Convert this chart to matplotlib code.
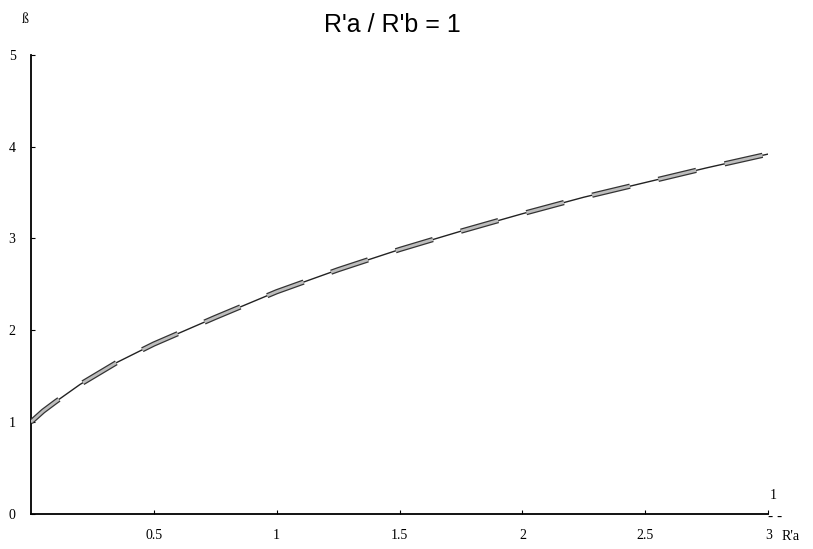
import matplotlib.pyplot as plt

## 1. Data
ra = [0, 0.05, 0.1, 0.2, 0.35, 0.5, 0.75, 1.0, 1.25, 1.5, 1.75, 2.0, 2.25, 2.5, 2.75, 3.0]
beta = [1.0, 1.12, 1.22, 1.41, 1.65, 1.85, 2.14, 2.42, 2.66, 2.88, 3.08, 3.27, 3.45, 3.61, 3.77, 3.92]
xticks = [0.5, 1, 1.5, 2, 2.5, 3]
xticklabels = ['0.5', '1', '1.5', '2', '2.5', '3']
yticks = [0, 1, 2, 3, 4, 5]

plt.rcParams['lines.scale_dashes'] = False
serif = 'Liberation Serif'

## 2. Plot
fig = plt.figure(figsize=(8.13, 5.49), dpi=100)
ax = fig.add_axes([0.038, 0.064, 0.907, 0.836])

ax.plot(ra, beta, color='#222222', lw=1.0, zorder=3)
# thick hatched segments along the curve
ax.plot(ra, beta, color='#333333', lw=3.8, ls=(2, (28, 21)), solid_capstyle='butt', zorder=4)
ax.plot(ra, beta, color='#bdbdbd', lw=2.0, ls=(2, (28, 21)), solid_capstyle='butt', zorder=5)

ax.set_xlim(0, 3)
ax.set_ylim(0, 5)
ax.spines['top'].set_visible(False)
ax.spines['right'].set_visible(False)
ax.spines['left'].set_linewidth(1.3)
ax.spines['bottom'].set_linewidth(1.3)

ax.set_xticks(xticks)
ax.set_xticklabels(xticklabels, family=serif, fontsize=10)
ax.set_yticks(yticks)
ax.set_yticklabels([str(v) for v in yticks], family=serif, fontsize=10)
ax.tick_params(direction='in', length=3, width=0.8)
ax.tick_params(axis='x', pad=11)
ax.tick_params(axis='y', pad=11)

## 3. Labels
fig.text(0.483, 0.954, "R'a / R'b = 1", fontsize=18, family='Liberation Sans',
         ha='center', va='center')
fig.text(0.031, 0.965, 'ß', fontsize=10, family=serif, ha='center', va='center')
fig.text(0.951, 0.098, '1', fontsize=10, family=serif, ha='center', va='center')
fig.text(0.953, 0.060, '- -', fontsize=11, family=serif, ha='center', va='center')
fig.text(0.972, 0.022, "R'a", fontsize=10, family=serif, ha='center', va='center')

## 4. Save
plt.savefig('out.png', dpi=100)
plt.close()
